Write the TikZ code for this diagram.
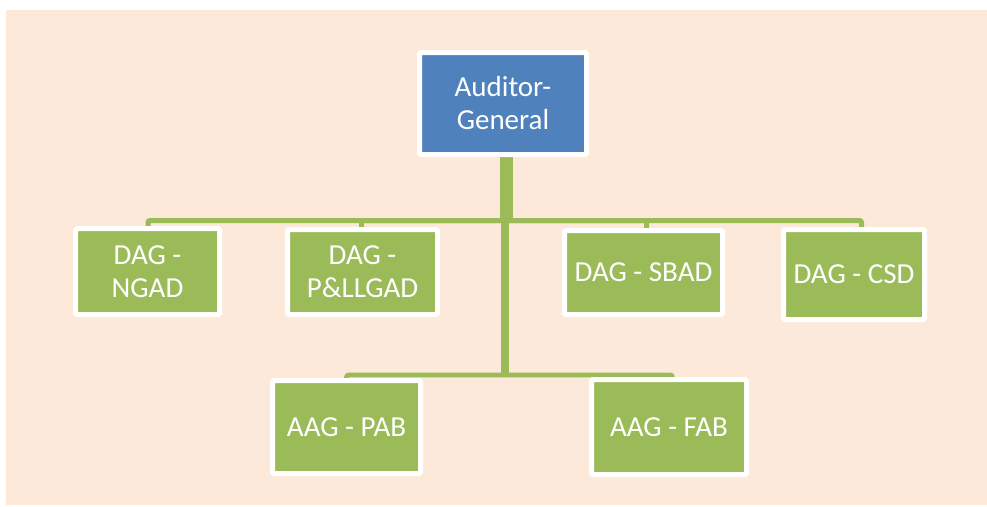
\documentclass[tikz,border=0pt]{standalone}
\usepackage{fontspec}
\setmainfont{Carlito}
\usetikzlibrary{backgrounds}
\definecolor{peach}{HTML}{FDE9D9}
\definecolor{ofblue}{HTML}{4F81BD}
\definecolor{ofgreen}{HTML}{9BBB59}
\begin{document}
\begin{tikzpicture}[x=1pt,y=-1pt,
  box/.style={draw=white, line width=5pt, rounded corners=1.5pt, inner sep=0pt,
    align=center, text=white, font=\fontsize{29}{33}\selectfont},
  bluebox/.style={box, fill=ofblue},
  greenbox/.style={box, fill=ofgreen},
  link/.style={draw=ofgreen, line width=5pt, rounded corners=2pt},
  stem/.style={draw=ofgreen}]
\useasboundingbox (0,0) rectangle (987,506);

% boxes
\node[bluebox, minimum width=167pt, minimum height=102pt] (ag) at (503,103.5) {Auditor-\\General};
\node[greenbox, minimum width=144pt, minimum height=86pt] (ngad) at (147.5,271.5) {DAG -\\NGAD};
\node[greenbox, minimum width=150pt, minimum height=85pt] (pll) at (362.5,272) {DAG -\\P\&LLGAD};
\node[greenbox, minimum width=158pt, minimum height=84pt] (sbad) at (643.5,272.5) {DAG - SBAD};
\node[greenbox, minimum width=141pt, minimum height=90pt] (csd) at (854,274.5) {DAG - CSD};
\node[greenbox, minimum width=148pt, minimum height=93pt] (pab) at (346.5,427) {AAG - PAB};
\node[greenbox, minimum width=155pt, minimum height=95pt] (fab) at (669,427) {AAG - FAB};

% junction points of the tree
\coordinate (hub) at (506.5,220.5);
\coordinate (low) at (505,375);

\begin{pgfonlayer}{background}
  \fill[peach] (6,10) rectangle (987,505);
  % trunk
  \draw[stem, line width=13pt] (hub |- ag.south) -- (hub);
  \draw[stem, line width=8pt] ([xshift=-1.5pt]hub) -- (low);
  % first level
  \draw[link] ([xshift=0.5pt]ngad.north) |- (hub);
  \draw[link] ([xshift=-1pt]pll.north) |- (hub);
  \draw[link] ([xshift=3pt]sbad.north) |- (hub);
  \draw[link] ([xshift=7.5pt]csd.north) |- (hub);
  % second level
  \draw[link, line width=4.6pt, line cap=round] (pab.north) -- (pab.north |- low) -- (low);
  \draw[link, line width=4.6pt, line cap=round] ([xshift=3.5pt]fab.north) -- ([xshift=3.5pt]fab.north |- low) -- (low);
\end{pgfonlayer}
\end{tikzpicture}
\end{document}
